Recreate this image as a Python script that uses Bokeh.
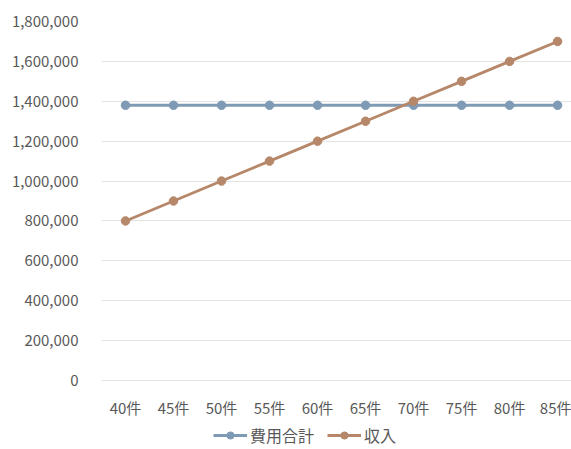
from bokeh.plotting import figure
from bokeh.models import Range1d, FixedTicker, Legend, LegendItem, NumeralTickFormatter
from bokeh.embed import file_html
from bokeh.resources import INLINE

categories = ["40件", "45件", "50件", "55件", "60件", "65件", "70件", "75件", "80件", "85件"]
cost_total = [1380000] * 10
revenue = [800000, 900000, 1000000, 1100000, 1200000, 1300000, 1400000, 1500000, 1600000, 1700000]
y_ticks = [0, 200000, 400000, 600000, 800000, 1000000, 1200000, 1400000, 1600000, 1800000]

FONT = "Noto Sans CJK JP"
TXT = "#595959"
BLUE = "#7f9ab4"
BROWN = "#b68769"

xs = list(range(len(categories)))

# frame spans y=21..449; value 0 sits at y=380 (69 px above the bottom)
p = figure(width=571, height=449, output_backend="svg", toolbar_location=None,
           x_range=Range1d(-0.5, 9.29), y_range=Range1d(-346000, 1800000),
           min_border_left=101, min_border_right=0, min_border_top=21, min_border_bottom=0)
p.outline_line_color = None
p.background_fill_color = "white"
p.border_fill_color = "white"

p.xaxis.ticker = FixedTicker(ticks=xs)
p.xaxis.major_label_overrides = {i: c for i, c in enumerate(categories)}
p.xaxis.fixed_location = 0
p.yaxis.ticker = FixedTicker(ticks=y_ticks)
p.yaxis.formatter = NumeralTickFormatter(format="0,0")
for ax in (p.xaxis[0], p.yaxis[0]):
    ax.axis_line_color = None
    ax.major_tick_line_color = None
    ax.minor_tick_line_color = None
    ax.major_label_text_font = FONT
    ax.major_label_text_font_size = "15px"
    ax.major_label_text_color = TXT
p.yaxis.major_label_standoff = 17
p.xaxis.major_label_standoff = 11
p.xgrid.grid_line_color = None
p.ygrid.grid_line_color = "#e3e3e3"
p.ygrid.grid_line_width = 1

l1 = p.line(xs, cost_total, line_color=BLUE, line_width=2.8)
s1 = p.scatter(xs, cost_total, size=8.5, fill_color=BLUE, line_color=BLUE)
l2 = p.line(xs, revenue, line_color=BROWN, line_width=2.8)
s2 = p.scatter(xs, revenue, size=8.5, fill_color=BROWN, line_color=BROWN)

legend = Legend(items=[LegendItem(label="費用合計", renderers=[l1, s1]),
                       LegendItem(label="収入", renderers=[l2, s2])],
                orientation="horizontal", location=(112, 2),
                label_text_font=FONT, label_text_font_size="16px", label_text_color=TXT,
                border_line_color=None, background_fill_alpha=0,
                glyph_width=34, glyph_height=18, label_height=18, label_standoff=3,
                spacing=13, padding=0, margin=0)
p.add_layout(legend, "center")

open("out.html", "w").write(file_html(p, INLINE))
